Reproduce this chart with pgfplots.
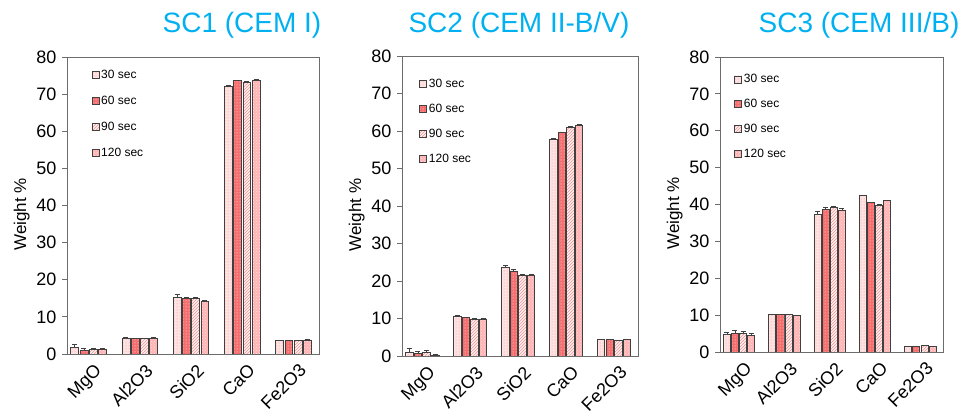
\documentclass[border=0pt]{standalone}
\usepackage{pgfplots}
\pgfplotsset{compat=1.18}
\usepackage{fontspec}
\setmainfont{Liberation Sans}
\usetikzlibrary{patterns}
\definecolor{ttl}{HTML}{00B0F0}
\definecolor{cA}{HTML}{FFE2E2}
\definecolor{cB}{HTML}{F76C6C}
\definecolor{cC}{HTML}{FFF2F2}
\definecolor{cCl}{HTML}{F49090}
\definecolor{cD}{HTML}{FFB3B3}
\definecolor{edge}{HTML}{404040}

\pgfplotsset{
  panel/.style={
    scale only axis,
    ymin=0, ymax=80, ytick={0,10,...,80},
    xmin=-0.42, xmax=4.5,
    xtick={0,1,2,3,4},
    xticklabels={MgO,Al2O3,SiO2,CaO,Fe2O3},
    x tick label style={rotate=45, anchor=north east, font=\fontsize{18}{20}\selectfont, inner sep=1pt, yshift=-5pt, xshift=2pt},
    y tick label style={font=\fontsize{18}{20}\selectfont, xshift=-2pt},
    /pgf/number format/assume math mode=true,
    ylabel={Weight \%},
    ylabel style={font=\fontsize{17}{19}\selectfont, at={(ticklabel cs:0.47)}},
    axis line style={draw=gray!85!black, line width=0.8pt},
    major tick length=5pt,
    tick style={draw=gray!85!black, line width=0.8pt},
    xtick style={draw=none},
    ytick pos=left,
    tick align=outside,
    bar width=0.155,
    legend cell align=left,
    legend style={draw=none, fill=none, font=\fontsize{12}{14}\selectfont, row sep=11pt, anchor=north west},
    legend image code/.code={\draw[##1, draw=edge, line width=0.6pt] (0pt,-3.5pt) rectangle (7pt,3.5pt);},
    error bars/y dir=plus, error bars/y explicit,
    error bars/error bar style={draw=edge, line width=0.6pt},
    error bars/error mark options={rotate=90, mark size=2.5pt, draw=edge},
  },
  sA/.style={ybar, bar shift=0pt, x filter/.expression={x-0.27}, draw=edge, line width=0.6pt, fill=cA, postaction={pattern=dots, pattern color=cCl}},
  sB/.style={ybar, bar shift=0pt, x filter/.expression={x-0.09}, draw=edge, line width=0.6pt, fill=cB, postaction={pattern=dots, pattern color=white}},
  sC/.style={ybar, bar shift=0pt, x filter/.expression={x+0.09}, draw=edge, line width=0.6pt, fill=cC, postaction={pattern=north east lines, pattern color=cCl}},
  sD/.style={ybar, bar shift=0pt, x filter/.expression={x+0.27}, draw=edge, line width=0.6pt, fill=cD, postaction={pattern=crosshatch dots, pattern color=cA}},
}

\begin{document}
\begin{tikzpicture}
\useasboundingbox (0pt,0pt) rectangle (959pt,415pt);

% ---------------- SC1 ----------------
\node[text=ttl, font=\fontsize{28}{30}\selectfont] at (242pt,390pt) {SC1 (CEM I)};
\begin{axis}[panel, at={(67pt,61pt)}, anchor=south west, width=252pt, height=297pt,
  legend style={at={(0.085,0.97)}, row sep=12pt}]
\addplot[sA] coordinates {(0,1.8) +- (0,0.9) (1,4.1) +- (0,0.3) (2,15.3) +- (0,0.8) (3,72.2) +- (0,0.2) (4,3.6) +- (0,0.1)};
\addplot[sB] coordinates {(0,0.9) +- (0,0.7) (1,4.1) +- (0,0.2) (2,14.9) +- (0,0.4) (3,73.6) +- (0,0.2) (4,3.6) +- (0,0.1)};
\addplot[sC] coordinates {(0,1.3) +- (0,0.3) (1,4.2) +- (0,0.1) (2,14.9) +- (0,0.5) (3,73.3) +- (0,0.2) (4,3.6) +- (0,0.1)};
\addplot[sD] coordinates {(0,1.3) +- (0,0.3) (1,4.3) +- (0,0.1) (2,14.2) +- (0,0.3) (3,73.8) +- (0,0.2) (4,3.8) +- (0,0.1)};
\legend{30 sec,60 sec,90 sec,120 sec}
\end{axis}

% ---------------- SC2 ----------------
\node[text=ttl, font=\fontsize{28}{30}\selectfont] at (519pt,390pt) {SC2 (CEM II-B/V)};
\begin{axis}[panel, at={(402pt,59pt)}, anchor=south west, width=236pt, height=300pt,
  legend style={at={(0.06,0.937)}}]
\addplot[sA] coordinates {(0,1.1) +- (0,1.1) (1,10.5) +- (0,0.3) (2,23.6) +- (0,0.7) (3,57.8) +- (0,0.2) (4,4.4) +- (0,0.1)};
\addplot[sB] coordinates {(0,0.7) +- (0,0.6) (1,10.2) +- (0,0.2) (2,22.7) +- (0,0.4) (3,59.6) +- (0,0.2) (4,4.4) +- (0,0.1)};
\addplot[sC] coordinates {(0,0.9) +- (0,0.6) (1,9.8) +- (0,0.2) (2,21.5) +- (0,0.2) (3,61.1) +- (0,0.2) (4,4.2) +- (0,0.1)};
\addplot[sD] coordinates {(0,0.1) +- (0,0.3) (1,9.9) +- (0,0.1) (2,21.5) +- (0,0.2) (3,61.5) +- (0,0.2) (4,4.4) +- (0,0.1)};
\legend{30 sec,60 sec,90 sec,120 sec}
\end{axis}

% ---------------- SC3 ----------------
\node[text=ttl, font=\fontsize{28}{30}\selectfont] at (859pt,390pt) {SC3 (CEM III/B)};
\begin{axis}[panel, at={(720pt,63pt)}, anchor=south west, width=223pt, height=295pt,
  legend style={at={(0.05,0.955)}}]
\addplot[sA] coordinates {(0,4.7) +- (0,0.8) (1,10.1) +- (0,0.2) (2,37.4) +- (0,0.8) (3,42.4) +- (0,0.2) (4,1.6) +- (0,0.1)};
\addplot[sB] coordinates {(0,5.1) +- (0,0.8) (1,10.1) +- (0,0.2) (2,38.6) +- (0,0.8) (3,40.5) +- (0,0.2) (4,1.6) +- (0,0.1)};
\addplot[sC] coordinates {(0,5.0) +- (0,0.6) (1,10.1) +- (0,0.2) (2,39.2) +- (0,0.4) (3,39.9) +- (0,0.1) (4,1.8) +- (0,0.1)};
\addplot[sD] coordinates {(0,4.6) +- (0,0.5) (1,10.0) +- (0,0.1) (2,38.3) +- (0,0.6) (3,41.2) +- (0,0.1) (4,1.6) +- (0,0.1)};
\legend{30 sec,60 sec,90 sec,120 sec}
\end{axis}
\end{tikzpicture}
\end{document}
